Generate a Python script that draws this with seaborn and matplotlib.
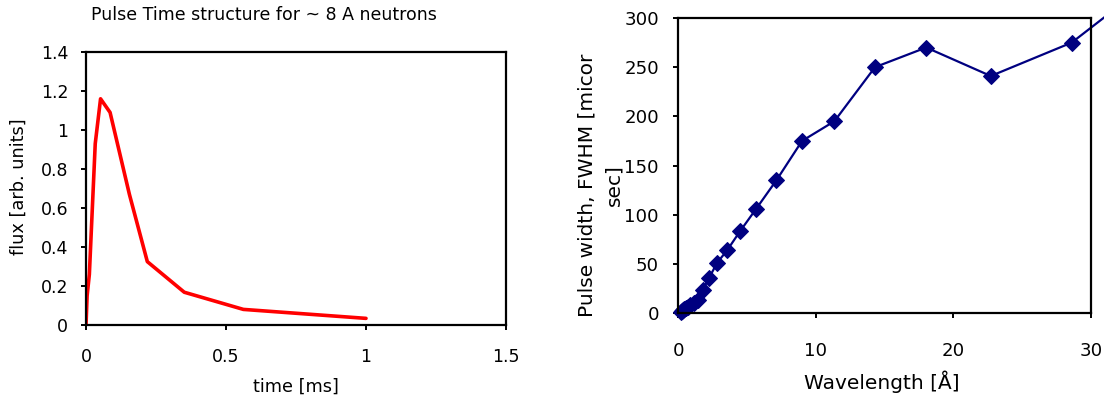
import matplotlib
matplotlib.use("Agg")
import matplotlib.pyplot as plt
import seaborn as sns

# pulse time structure (~8 A neutrons)
time_ms = [0, 0.004, 0.012, 0.033, 0.052, 0.086, 0.155, 0.219, 0.351, 0.562, 1.0]
flux = [0, 0.15, 0.26, 0.93, 1.16, 1.09, 0.67, 0.325, 0.168, 0.08, 0.034]

# pulse width vs wavelength
wavelength = [0.22, 0.28, 0.35, 0.45, 0.56, 0.71, 0.89, 1.13, 1.42, 1.79, 2.25,
              2.84, 3.58, 4.5, 5.68, 7.15, 9.01, 11.36, 14.31, 18.03, 22.72,
              28.6, 36.07]
fwhm = [1, 2, 3, 4, 5, 6.5, 8, 10, 13, 23, 35.5, 51, 64, 83, 106, 135, 175,
        195, 250, 270, 241, 275, 356]

left_xticks = [0, 0.5, 1, 1.5]
left_yticks = [0, 0.2, 0.4, 0.6, 0.8, 1, 1.2, 1.4]
right_xticks = [0, 10, 20, 30]
right_yticks = [0, 50, 100, 150, 200, 250, 300]

sns.set_style("white")
plt.rcParams['font.family'] = ['DejaVu Sans']
plt.rcParams['text.color'] = 'black'
plt.rcParams['axes.labelcolor'] = 'black'

W, H = 1104, 397
fig = plt.figure(figsize=(W / 100, H / 100), dpi=100)


def px_axes(x0, y0, x1, y1):
    # axes from pixel box (top-left origin)
    return fig.add_axes([x0 / W, 1 - y1 / H, (x1 - x0) / W, (y1 - y0) / H])


def style_axes(ax, fs, xpad, ypad):
    for s in ax.spines.values():
        s.set_color("black")
        s.set_linewidth(1.6)
        s.set_visible(True)
    ax.tick_params(direction="out", length=3.8, width=1.4, color="black",
                   labelsize=fs, labelcolor="black")
    ax.tick_params(axis="x", pad=xpad)
    ax.tick_params(axis="y", pad=ypad)
    ax.tick_params(top=False, right=False, bottom=True, left=True)


# left chart
ax1 = px_axes(86, 52, 506, 325)
sns.lineplot(x=time_ms, y=flux, ax=ax1, color="red", linewidth=2.6, sort=False)
ax1.set_xlim(0, 1.5)
ax1.set_ylim(0, 1.4)
ax1.set_xticks(left_xticks)
ax1.set_xticklabels([f"{v:g}" for v in left_xticks])
ax1.set_yticks(left_yticks)
ax1.set_yticklabels([f"{v:g}" for v in left_yticks])
style_axes(ax1, 12.5, 12.5, 9)
ax1.set_xlabel("time [ms]", fontsize=12.8, color="black")
ax1.set_ylabel("flux [arb. units]", fontsize=12.8, color="black")
ax1.xaxis.set_label_coords(0.5, -0.194)
ax1.yaxis.set_label_coords(-0.138, 0.505)
fig.text(264 / W, 1 - 20 / H, "Pulse Time structure for ~ 8 A neutrons",
         fontsize=12.5, ha="center", va="baseline", color="black")

# right chart
ax2 = px_axes(678, 18, 1091, 313)
sns.lineplot(x=wavelength, y=fwhm, ax=ax2, color="#000080", linewidth=1.6,
             marker="D", markersize=8, markeredgecolor="#000080",
             sort=False, clip_on=False)
ax2.set_xlim(0, 30)
ax2.set_ylim(0, 300)
ax2.set_xticks(right_xticks)
ax2.set_xticklabels([str(v) for v in right_xticks])
ax2.set_yticks(right_yticks)
ax2.set_yticklabels([str(v) for v in right_yticks])
style_axes(ax2, 13.1, 17, 10)
ax2.set_xlabel("Wavelength [Å]", fontsize=14.5, color="black")
ax2.set_ylabel("Pulse width, FWHM [micor\nsec]", fontsize=14.5,
               linespacing=1.5, color="black")
ax2.xaxis.set_label_coords(0.494, -0.195)
ax2.yaxis.set_label_coords(-0.133, 0.434)

fig.savefig("out.png", dpi=100)
